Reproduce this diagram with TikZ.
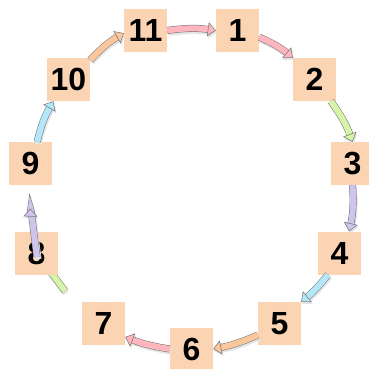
\documentclass[tikz,border=0pt]{standalone}
\usepackage{fontspec}
\setmainfont{Liberation Sans}
\usepackage{tikz}
\usetikzlibrary{arrows.meta}
\definecolor{boxtan}{RGB}{251,212,180}
\definecolor{arrpink}{RGB}{255,182,190}
\definecolor{arrgreen}{RGB}{214,245,168}
\definecolor{arrlav}{RGB}{208,196,236}
\definecolor{arrblue}{RGB}{180,232,248}
\definecolor{arrpeach}{RGB}{250,198,155}
\tikzset{numbox/.style={rectangle, fill=boxtan, minimum size=43pt, inner sep=0pt, font=\fontsize{32}{32}\selectfont\bfseries}, fat/.style={draw=black!55, line width=0.5pt, double=#1, double distance=6pt, -{Triangle[length=8pt, width=14pt, line width=0.5pt, fill=#1]}, preaction={draw=black!10, double=black!10, -{Triangle[length=8pt, width=14pt, line width=0.5pt, fill=black!10]}, transform canvas={shift={(1pt,-2pt)}}}}, stub/.style={draw=black!55, line width=0.5pt, double=#1, double distance=6pt, preaction={draw=black!10, double=black!10, transform canvas={shift={(1pt,-2pt)}}}}}

\begin{document}
\begin{tikzpicture}[x=1pt, y=-1pt]
\useasboundingbox (0,0) rectangle (368,369);
% the stub going behind box 8
\coordinate (t7) at (65,291);
\draw[stub=arrgreen] (t7) -- (36.5,253);
\node[numbox] (n11) at (145.5,30.5) {11};
\node[numbox] (n1) at (237.5,30.5) {1};
\node[numbox] (n10) at (68.5,79.5) {10};
\node[numbox] (n2) at (314.5,79.5) {2};
\node[numbox] (n9) at (30.5,163.5) {9};
\node[numbox] (n3) at (352.5,163.5) {3};
\node[numbox] (n8) at (36.5,253) {8};
\node[numbox] (n4) at (339.5,253) {4};
\node[numbox] (n7) at (103.5,323.5) {7};
\node[numbox] (n5) at (279.5,323.5) {5};
\node[numbox] (n6) at (191.5,349) {6};
\draw[fat=arrpink] (n11.east) to[bend left=8] (n1.west);
\draw[fat=arrpink] (n1.-17) to[bend left=8] (n2.north west);
\draw[fat=arrgreen] (n2.-53) to[bend left=8] (n3.north);
\draw[fat=arrlav] (n3.south) to[bend left=8] (n4.66);
\draw[fat=arrblue] (n4.242) to[bend left=6] (n5.north east);
\draw[fat=arrpeach] (n5.208) to[bend left=6] (n6.east);
\draw[fat=arrpink] (n6.west) to[bend left=6] (n7.-32);
\draw[fat=arrlav, shorten <=-4pt, shorten >=45pt] (n8.center) to[bend left=4] (n9.center);
\draw[fat=arrblue] (n9.73) to[bend left=8] (n10.235);
\draw[fat=arrpeach] (n10.42) to[bend left=8] (n11.187);
\end{tikzpicture}
\end{document}
